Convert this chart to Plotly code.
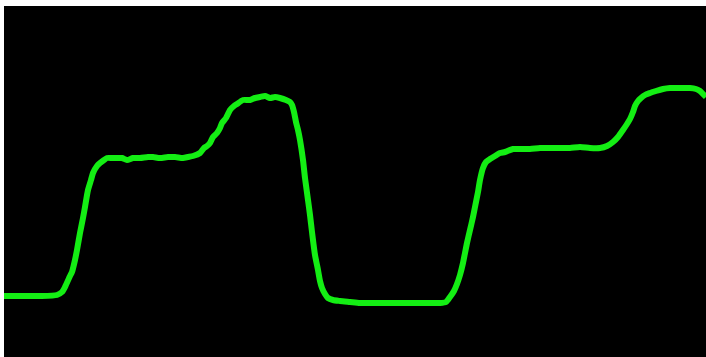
import plotly.graph_objects as go

# Sampled trace: time (samples) and signal amplitude (arbitrary units)
time = [0, 16, 36, 53, 58, 61, 66, 68, 71, 73, 76, 79, 81, 84, 87, 89, 93, 96, 100, 103,
        108, 113, 118, 123, 129, 136, 144, 149, 156, 164, 171, 179, 184, 189, 196, 200,
        203, 206, 209, 213, 216, 218, 222, 226, 230, 233, 239, 246, 251, 256, 261, 266,
        271, 276, 282, 286, 288, 290, 292, 294, 296, 299, 301, 304, 306, 308, 311, 314,
        316, 318, 321, 324, 329, 336, 346, 356, 376, 396, 416, 436, 442, 446, 450, 453,
        456, 459, 461, 463, 466, 469, 471, 474, 476, 479, 482, 486, 491, 496, 501, 509,
        516, 526, 536, 546, 556, 566, 576, 586, 596, 603, 609, 614, 619, 623, 626, 629,
        631, 634, 637, 641, 646, 652, 659, 666, 676, 686, 692, 696, 699, 702]
signal = [61, 61, 61, 62, 65, 70, 81, 85, 97, 107, 124, 139, 150, 167, 177, 184, 191, 194,
          197, 199, 199, 199, 199, 197, 199, 199, 200, 200, 199, 200, 200, 199, 200, 201,
          204, 209, 211, 214, 220, 224, 229, 234, 239, 247, 251, 253, 257, 257, 259, 260,
          261, 259, 260, 259, 257, 255, 252, 245, 235, 227, 217, 197, 179, 157, 142, 125,
          102, 87, 76, 69, 63, 59, 57, 56, 55, 54, 54, 54, 54, 54, 55, 60, 66, 73, 82, 94,
          104, 114, 127, 140, 150, 165, 177, 189, 195, 198, 201, 204, 205, 208, 208, 208,
          209, 209, 209, 209, 210, 209, 209, 211, 215, 220, 227, 233, 238, 245, 251, 256,
          259, 262, 264, 266, 268, 269, 269, 269, 268, 266, 263, 260]

fig = go.Figure(
    go.Scatter(
        x=time,
        y=signal,
        mode="lines",
        line=dict(color="#14ee14", width=6, shape="spline", smoothing=0.6),
        hoverinfo="skip",
    )
)

fig.update_layout(
    width=706,
    height=357,
    margin=dict(l=4, r=0, t=6, b=0),
    paper_bgcolor="white",
    plot_bgcolor="black",
    showlegend=False,
    xaxis=dict(range=[0, 702], visible=False, showgrid=False, zeroline=False, fixedrange=True),
    yaxis=dict(range=[0, 351], visible=False, showgrid=False, zeroline=False, fixedrange=True),
)

fig.write_html("out.html", config={"displayModeBar": False})
